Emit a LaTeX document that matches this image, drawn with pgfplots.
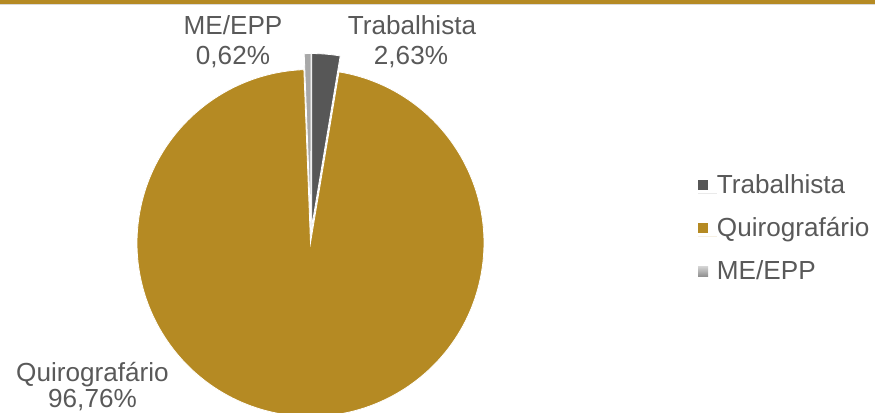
\documentclass[border=0pt]{standalone}
\usepackage{pgfplots}
\pgfplotsset{compat=1.18}
\usetikzlibrary{calc}
\usepackage{fontspec}
\setmainfont{Liberation Sans}
\definecolor{gold}{HTML}{B58A23}
\definecolor{dgray}{HTML}{575757}
\definecolor{lgray}{HTML}{A8A8A8}
\definecolor{txt}{HTML}{595959}
\begin{document}
\begin{tikzpicture}
% values (percent)
\def\valT{2.63}
\def\valQ{96.76}
\def\valM{0.62}
\pgfmathsetmacro\sT{90}
\pgfmathsetmacro\eT{\sT-3.6*\valT}
\pgfmathsetmacro\mT{(\sT+\eT)/2}
\pgfmathsetmacro\eQ{\eT-3.6*\valQ}
\pgfmathsetmacro\mQ{(\eT+\eQ)/2}
\pgfmathsetmacro\eM{\eQ-3.6*\valM}
\pgfmathsetmacro\mM{(\eQ+\eM)/2}
\def\R{130.1pt}
\def\ex{6pt}
\begin{axis}[
  x=0.75pt, y=0.75pt,
  xmin=0, xmax=875, ymin=0, ymax=413,
  hide axis, clip=false,
  legend image code/.code={\fill[#1] (0pt,2.4pt) rectangle (7.6pt,10pt); \path (0pt,0pt) -- (14.2pt,0pt);},
  legend style={at={(axis cs:698,238.6)}, anchor=north west, draw=none, fill=none,
    inner sep=0pt, outer sep=0pt, row sep=18.6pt, column sep=0pt,
    font=\fontsize{19.6}{23}\selectfont, text=txt,
    nodes={inner sep=0pt, outer sep=0pt, text height=14pt, text depth=0pt, anchor=base west}},
  legend cell align=left,
]
\coordinate (BL) at (axis cs:0,0);
\coordinate (TR) at (axis cs:875,413);
% top rule
\fill[gold] (axis cs:0,408.6) rectangle (axis cs:875,413);
\fill[black!15] (axis cs:0,407.8) rectangle (axis cs:875,408.6);
% slices
\fill[dgray, draw=white, line width=0.6pt] ($(axis cs:311,178)+(\mT:\ex)$) -- ++(\sT:\R) arc[start angle=\sT, end angle=\eT, radius=\R] -- cycle;
\fill[gold, draw=white, line width=0.6pt] ($(axis cs:311,178)+(\mQ:\ex)$) -- ++(\eT:\R) arc[start angle=\eT, end angle=\eQ, radius=\R] -- cycle;
\fill[lgray, draw=white, line width=0.6pt] ($(axis cs:311,178)+(\mM:\ex)$) -- ++(\eQ:\R) arc[start angle=\eQ, end angle=\eM, radius=\R] -- cycle;
% data labels
\begin{scope}[every node/.style={font=\fontsize{19.6}{23}\selectfont, text=txt, anchor=base, inner sep=0pt}]
\node at (axis cs:233,378) {ME/EPP};
\node at (axis cs:233,348) {0,62\%};
\node at (axis cs:412,378) {Trabalhista};
\node at (axis cs:411,348) {2,63\%};
\node at (axis cs:92.5,31) {Quirografário};
\node at (axis cs:92.5,5.5) {96,76\%};
\end{scope}
\addlegendimage{fill=dgray, draw=none}
\addlegendentry{Trabalhista}
\addlegendimage{fill=gold, draw=none}
\addlegendentry{Quirografário}
\addlegendimage{top color=black!18, bottom color=black!45, draw=none}
\addlegendentry{ME/EPP}
\end{axis}
\pgfresetboundingbox
\useasboundingbox (BL) rectangle (TR);
\end{tikzpicture}
\end{document}
